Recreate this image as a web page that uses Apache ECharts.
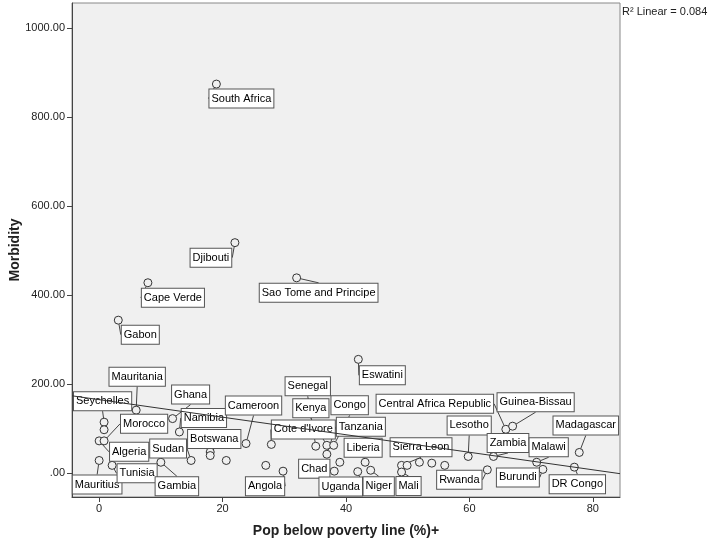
<!DOCTYPE html>
<html><head><meta charset="utf-8">
<script src="https://cdn.jsdelivr.net/npm/echarts@6/dist/echarts.min.js"></script>
<style>html,body{margin:0;padding:0;background:#fff}#c{width:708px;height:550px}</style>
</head><body><div id="c"></div>
<script>
// ---- data ----
const countries = ['South Africa','Djibouti','Cape Verde','Gabon','Sao Tome and Principe','Eswatini',
  'Mauritania','Seychelles','','Algeria','Morocco','Mauritius','Tunisia','Gambia','Namibia','Ghana',
  'Sudan','Botswana','','','Cameroon','','Cote d\'Ivore','Angola','Senegal','Kenya','Congo','Tanzania',
  'Chad','','Uganda','Liberia','Niger','Sierra Leon','','Mali','','','','Lesotho','Rwanda','Zambia',
  'Central Africa Republic','Guinea-Bissau','Malawi','Burundi','DR Congo','Madagascar'];
const povertyPct = [19.0,22.0,7.9,3.1,32.0,42.0,
  6.0,0.8,0.8,0.0,0.8,0.0,2.1,10.0,13.0,11.9,
  14.9,18.0,18.0,20.6,23.8,27.0,27.9,29.8,35.1,36.9,38.0,36.9,
  38.1,39.0,41.9,43.1,44.0,49.0,49.9,49.0,51.9,53.9,56.0,59.8,62.9,63.9,
  65.9,67.0,70.9,71.9,77.0,77.8];
const morbidity = [874,518,428,344,439,256,
  142,115,98,73,73,29,18,25,93,123,
  29,48,40,29,67,18,65,5,61,63,63,43,
  5,25,4,25,7,18,18,3,25,23,18,38,8,38,
  99,106,25,9,14,47];
const xTicks = [0,20,40,60,80];
const yTicks = [0,200,400,600,800,1000];
const xTitle = 'Pop below poverty line (%)+';
const yTitle = 'Morbidity';
const r2Text = 'R\u00B2 Linear = 0.084';

// ---- label placement (style only): offset of label centre from its point, px ----
const labelOffsets = {
  'South Africa':[25,14.5],'Djibouti':[-24,15],'Cape Verde':[25,15],'Gabon':[22,14.5],
  'Sao Tome and Principe':[22,15],'Eswatini':[24,16],'Mauritania':[1,-33.5],'Seychelles':[-1.5,-21],
  'Ghana':[18,-24],'Morocco':[40,-17],'Namibia':[24.5,-14],'Cameroon':[7.5,-38],'Botswana':[4,-13],
  'Algeria':[30,11],'Sudan':[-23,-12],'Tunisia':[25,8],'Mauritius':[-2,24],'Gambia':[16,24],
  'Angola':[-18,15],'Senegal':[-8,-60],'Kenya':[-16,-37],'Congo':[16,-40],
  'Central Africa Republic':[-71,-25.5],'Cote d\'Ivore':[32,-15],'Tanzania':[34,-27.5],
  'Liberia':[-2,-14.5],'Sierra Leon':[19.5,-18],'Lesotho':[1,-31],'Chad':[-20,-2.5],
  'Uganda':[-17,15],'Niger':[8,16],'Mali':[7,14],'Rwanda':[-28,10],'Guinea-Bissau':[23,-24],
  'Zambia':[14.5,-13.5],'Malawi':[12,-15],'Burundi':[-25,8],'Madagascar':[6.5,-27],'DR Congo':[3,17]
};

const X_MIN = -4.4, X_MAX = 84.4, Y_MIN = -53, Y_MAX = 1056;

// linear fit (least squares) from the data
const n = povertyPct.length;
const mx = povertyPct.reduce((a,b)=>a+b,0)/n;
const my = morbidity.reduce((a,b)=>a+b,0)/n;
let sxy=0, sxx=0;
for (let i=0;i<n;i++){ sxy += (povertyPct[i]-mx)*(morbidity[i]-my); sxx += (povertyPct[i]-mx)**2; }
const slope = sxy/sxx, icpt = my - slope*mx;
const fitLine = [[X_MIN, icpt+slope*X_MIN],[X_MAX, icpt+slope*X_MAX]];

const points = countries.map((c,i)=>{
  const item = {name:c, value:[povertyPct[i], morbidity[i]]};
  if (!c) { item.label = {show:false}; item.labelLine = {show:false}; }
  return item;
});

const FONT = '"Liberation Sans", Arial, sans-serif';
const chart = echarts.init(document.getElementById('c'), null, {renderer:'canvas'});
chart.setOption({
  animation:false,
  backgroundColor:'#fff',
  grid:{left:72, right:88, top:3, bottom:53, outerBoundsMode:'none', containLabel:false,
    show:true, backgroundColor:'#f0f0f0', borderColor:'#888', borderWidth:1},
  xAxis:{
    type:'value', min:X_MIN, max:X_MAX,
    name:xTitle, nameLocation:'middle', nameGap:27, nameMoveOverlap:false,
    nameTextStyle:{fontFamily:FONT, fontSize:14, fontWeight:'bold', color:'#222'},
    axisLine:{show:true, onZero:false, lineStyle:{color:'#444', width:1}},
    axisTick:{show:true, length:5, customValues:xTicks, lineStyle:{color:'#444'}},
    axisLabel:{customValues:xTicks, fontFamily:FONT, fontSize:11, color:'#222', margin:6,
      formatter:v=>String(v)},
    splitLine:{show:false}
  },
  yAxis:{
    type:'value', min:Y_MIN, max:Y_MAX,
    name:yTitle, nameLocation:'middle', nameGap:50, nameRotate:90, nameMoveOverlap:false,
    nameTextStyle:{fontFamily:FONT, fontSize:14, fontWeight:'bold', color:'#222'},
    axisLine:{show:true, onZero:false, lineStyle:{color:'#444', width:1}},
    axisTick:{show:true, length:5, customValues:yTicks, lineStyle:{color:'#444'}},
    axisLabel:{customValues:yTicks, fontFamily:FONT, fontSize:11, color:'#222', margin:7,
      formatter:v=> v===0 ? '.00' : v.toFixed(2)},
    splitLine:{show:false}
  },
  graphic:[{type:'text', left:622, top:6, style:{text:r2Text, font:'11px '+FONT, fill:'#222'}}],
  series:[
    {
      type:'scatter', z:2, data:points, symbol:'circle', symbolSize:8,
      itemStyle:{color:'#f0f0f0', borderColor:'#333', borderWidth:1, opacity:1},
      label:{show:true, position:'inside', formatter:p=>p.name, fontFamily:FONT, fontSize:11, color:'#000',
        backgroundColor:'#fff', borderColor:'#555', borderWidth:1, padding:[4,2,3,2]},
      labelLine:{show:true, lineStyle:{color:'#444', width:1}},
      labelLayout:function(p){
        const o = labelOffsets[countries[p.dataIndex]];
        return o ? {dx:o[0], dy:o[1], hideOverlap:false} : {};
      },
      emphasis:{disabled:true}
    },
    {
      type:'line', z:10, data:fitLine, symbol:'none', silent:true,
      lineStyle:{color:'#333', width:1}
    }
  ]
});
</script></body></html>
